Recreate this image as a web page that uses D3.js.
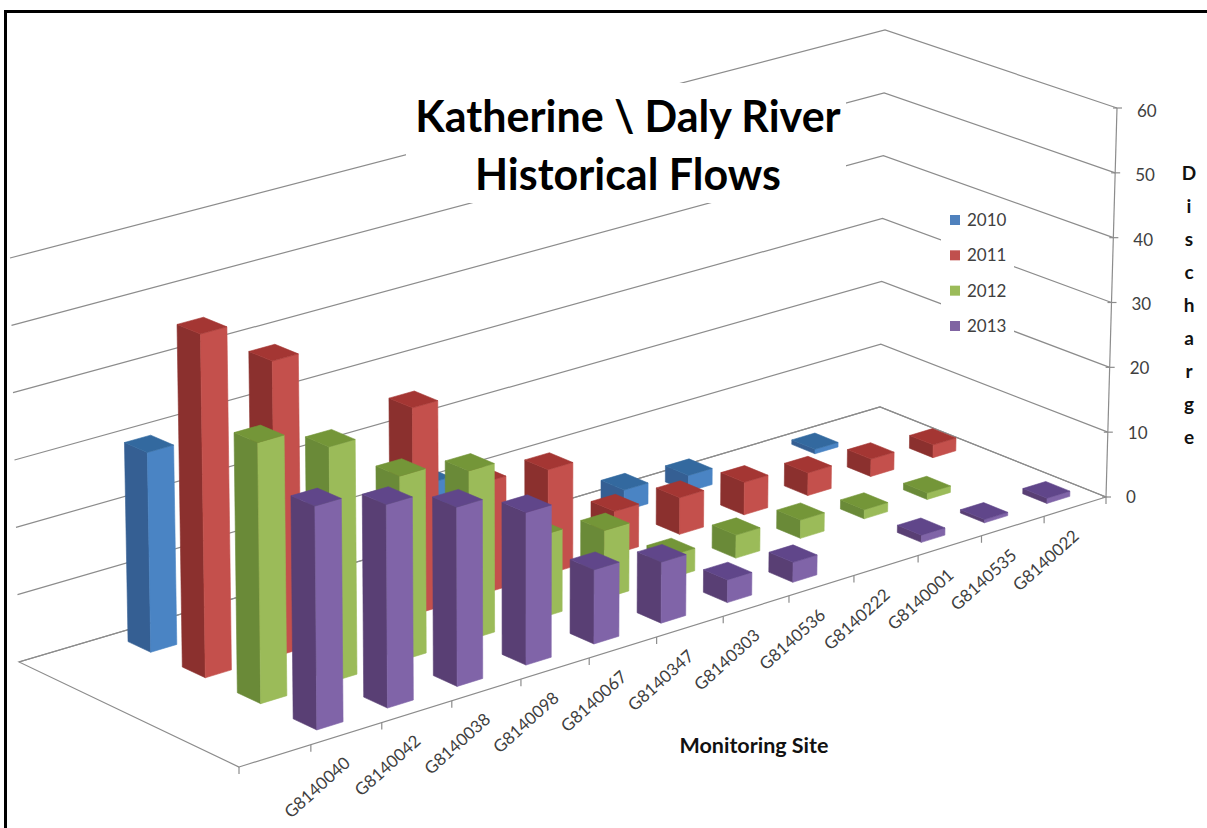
<!DOCTYPE html>
<html>
<head>
<meta charset="utf-8">
<title>Katherine \ Daly River Historical Flows</title>
<script src="https://cdn.jsdelivr.net/npm/d3@7/dist/d3.min.js"></script>
<style>
  html, body { margin: 0; padding: 0; background: #fff; }
  svg { display: block; }
  text { font-family: Lato, "Open Sans", sans-serif; }
</style>
</head>
<body>
<svg id="chart" width="1207" height="828"></svg>
<script>
// Chart content
const titleLines = ["Katherine \\ Daly River", "Historical Flows"];
const xTitle = "Monitoring Site";
const yTitle = "Discharge";
const sites = ["G8140040", "G8140042", "G8140038", "G8140098", "G8140067", "G8140347",
               "G8140303", "G8140536", "G8140222", "G8140001", "G8140535", "G8140022"];
const years = ["2010", "2011", "2012", "2013"];
const flows2010 = [29.7, 0, 0, 0, 13, 0, 0, 3.2, 2.5, 0, 0.7, 0];
const flows2011 = [50.7, 43.8, 0, 31, 16.7, 15.8, 6.5, 5.6, 5, 3.5, 2.7, 2];
const flows2012 = [38.2, 34.6, 27.3, 25.1, 12.3, 10.2, 3.4, 3.5, 2.8, 1.4, 1, 0];
const flows2013 = [32.5, 29.7, 26.3, 22.5, 11, 9.1, 3.4, 3, 0, 1.1, 0.5, 0.8];
const yTicks = [0, 10, 20, 30, 40, 50, 60];

// Face shades per series: lit side, shaded side, top
const faceColors = {
  "2010": { right: "#4a84c4", left: "#355f93", top: "#33699f", key: "#4f81bd" },
  "2011": { right: "#c4504c", left: "#8b302e", top: "#a43633", key: "#c0504d" },
  "2012": { right: "#9bbb59", left: "#6a8a38", top: "#749638", key: "#9bbb59" },
  "2013": { right: "#8064a8", left: "#593f74", top: "#60468a", key: "#8064a2" }
};

const svg = d3.select("#chart");

// Screen corners of the floor and how far a 60-unit column rises at each one
const floor = {
  back:  { x: 880, y: 407, riseX: 5,  riseY: 377 },
  right: { x: 1106, y: 497, riseX: 11, riseY: 389 },
  front: { x: 239, y: 767, riseX: -5, riseY: 417 },
  left:  { x: 19, y: 662, riseX: -9, riseY: 404 }
};

// Perspective map of the unit square: (0,0) front, (1,0) right, (1,1) back, (0,1) left
function squareToQuad(p0, p1, p2, p3) {
  const dx1 = p1.x - p2.x, dx2 = p3.x - p2.x, sx = p0.x - p1.x + p2.x - p3.x;
  const dy1 = p1.y - p2.y, dy2 = p3.y - p2.y, sy = p0.y - p1.y + p2.y - p3.y;
  const det = dx1 * dy2 - dx2 * dy1;
  const g = (sx * dy2 - dx2 * sy) / det;
  const h = (dx1 * sy - sx * dy1) / det;
  const a = p1.x - p0.x + g * p1.x, b = p3.x - p0.x + h * p3.x, c = p0.x;
  const d = p1.y - p0.y + g * p1.y, e = p3.y - p0.y + h * p3.y, f = p0.y;
  return (u, w) => {
    const q = g * u + h * w + 1;
    return [(a * u + b * w + c) / q, (d * u + e * w + f) / q];
  };
}
const floorPoint = squareToQuad(floor.front, floor.right, floor.back, floor.left);

const valueFrac = d3.scaleLinear().domain([0, 60]).range([0, 1]);

// Floor position (u along the sites, w into the depth) plus height in data units
function project(u, w, v) {
  const [x, y] = floorPoint(u, w);
  const rx = d3.interpolateNumber(
    d3.interpolateNumber(floor.front.riseX, floor.right.riseX)(u),
    d3.interpolateNumber(floor.left.riseX, floor.back.riseX)(u))(w);
  const ry = d3.interpolateNumber(
    d3.interpolateNumber(floor.front.riseY, floor.right.riseY)(u),
    d3.interpolateNumber(floor.left.riseY, floor.back.riseY)(u))(w);
  const t = valueFrac(v);
  return [x + rx * t, y - ry * t];
}

// One empty slot leads the category axis, then a slot for each site
const uBand = d3.scaleBand().domain(["", ...sites]).range([0, 1]);
const wBand = d3.scaleBand().domain([...years].reverse()).range([0, 1]);
const barWidth = uBand.bandwidth() * 0.37;
const barDepth = wBand.bandwidth() * 0.42;

const line = d3.line();
const closed = pts => line(pts) + "Z";
const gridColor = "#8c8c8c";

// Walls: each gridline runs along the back wall, then the side wall
const grid = svg.append("g").attr("fill", "none").attr("stroke", gridColor).attr("stroke-width", 1.2);
grid.selectAll("path.level").data(yTicks).join("path")
  .attr("class", "level")
  .attr("d", v => line([project(0, 1, v), project(1, 1, v), project(1, 0, v)]));

// Floor edges
grid.append("path").attr("d", closed([project(0, 0, 0), project(1, 0, 0), project(1, 1, 0), project(0, 1, 0)]));

// Value axis
grid.append("path").attr("d", line([project(1, 0, 0), project(1, 0, 60)]));
grid.selectAll("path.ytick").data(yTicks).join("path")
  .attr("class", "ytick")
  .attr("d", v => { const [x, y] = project(1, 0, v); return line([[x - 4, y], [x + 5, y]]); });

// Category ticks at every slot boundary
const tickStops = [...uBand.domain().map(d => uBand(d)), 1];
grid.selectAll("path.xtick").data(tickStops).join("path")
  .attr("class", "xtick")
  .attr("d", u => { const [x, y] = project(u, 0, 0); return line([[x, y], [x, y + 7]]); });

// White panels behind the title and legend interrupt the gridlines
svg.append("rect").attr("x", 406).attr("y", 83).attr("width", 440).attr("height", 120).attr("fill", "#fff");
svg.append("rect").attr("x", 941).attr("y", 205).attr("width", 73).attr("height", 135).attr("fill", "#fff");

// Columns, back row first so nearer rows paint over them
const seriesRows = [
  { year: "2010", values: flows2010 },
  { year: "2011", values: flows2011 },
  { year: "2012", values: flows2012 },
  { year: "2013", values: flows2013 }
];
const barsLayer = svg.append("g");
seriesRows.forEach(row => {
  const colors = faceColors[row.year];
  const wMid = wBand(row.year) + wBand.bandwidth() / 2;
  const w0 = wMid - barDepth / 2, w1 = wMid + barDepth / 2;
  row.values.forEach((value, i) => {
    if (!value) return;
    const uMid = uBand(sites[i]) + uBand.bandwidth() / 2;
    const u0 = uMid - barWidth / 2, u1 = uMid + barWidth / 2;
    const g = barsLayer.append("g").attr("class", "bar");
    const face = (pts, fill) => g.append("path").attr("d", closed(pts))
      .attr("fill", fill).attr("stroke", fill).attr("stroke-width", 0.6).attr("stroke-linejoin", "round");
    face([project(u0, w0, 0), project(u0, w1, 0), project(u0, w1, value), project(u0, w0, value)], colors.left);
    face([project(u0, w0, 0), project(u1, w0, 0), project(u1, w0, value), project(u0, w0, value)], colors.right);
    face([project(u0, w0, value), project(u1, w0, value), project(u1, w1, value), project(u0, w1, value)], colors.top);
  });
});

// Title
svg.append("g").selectAll("text").data(titleLines).join("text")
  .attr("x", 628)
  .attr("y", (d, i) => 132 + i * 58)
  .attr("text-anchor", "middle")
  .attr("font-size", 43)
  .attr("font-weight", 700)
  .attr("fill", "#000")
  .text(d => d);

// Category labels end beneath the middle of their slot
svg.append("g").selectAll("text").data(sites).join("text")
  .attr("transform", d => {
    const [x, y] = project(uBand(d) + uBand.bandwidth() / 2, 0, 0);
    return `translate(${x + 5},${y + 31}) rotate(-42)`;
  })
  .attr("text-anchor", "end")
  .attr("font-size", 17)
  .attr("fill", "#404040")
  .text(d => d);

// Value labels sit slightly lower toward the top of the axis
svg.append("g").selectAll("text").data(yTicks).join("text")
  .attr("x", v => project(1, 0, v)[0] + 20)
  .attr("y", v => project(1, 0, v)[1] + 6 + valueFrac(v) * 3)
  .attr("font-size", 17)
  .attr("fill", "#404040")
  .text(d => d);

// Axis titles
svg.append("text").attr("x", 754).attr("y", 753).attr("text-anchor", "middle")
  .attr("font-size", 21.5).attr("font-weight", 700).attr("fill", "#111").text(xTitle);
svg.append("g").selectAll("text").data(yTitle.split("")).join("text")
  .attr("x", 1189)
  .attr("y", (d, i) => 180 + i * 33)
  .attr("text-anchor", "middle")
  .attr("font-size", 19)
  .attr("font-weight", 700)
  .attr("fill", "#111")
  .text(d => d);

// Legend
const legendY = d3.scalePoint().domain(years).range([220, 326]);
const legend = svg.append("g").selectAll("g").data(years).join("g")
  .attr("transform", d => `translate(950,${legendY(d)})`);
legend.append("rect").attr("x", 0).attr("y", -5).attr("width", 10).attr("height", 10)
  .attr("fill", d => faceColors[d].key);
legend.append("text").attr("x", 17).attr("y", 6).attr("font-size", 17).attr("fill", "#404040").text(d => d);

// Picture frame along the top and left edges
svg.append("path")
  .attr("d", "M5.5,828V11.5H1207")
  .attr("fill", "none").attr("stroke", "#000").attr("stroke-width", 3);
</script>
</body>
</html>
